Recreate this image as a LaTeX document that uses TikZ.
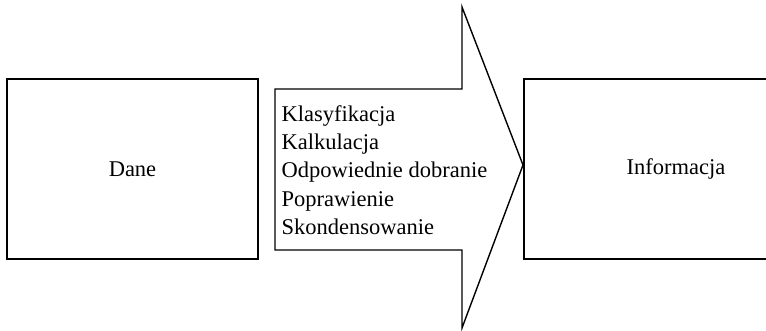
\documentclass[tikz,border=0pt]{standalone}
\usepackage{fontspec}
\setmainfont{Liberation Serif}
\usepackage{tikz}
\usetikzlibrary{positioning}

\begin{document}
\begin{tikzpicture}[x=1pt, y=-1pt, line width=1.4pt,
  %%Estilos
  every node/.style = {font=\fontsize{22.5}{28.3}\selectfont},
  blok/.style  = {draw, rectangle, inner sep=0pt, minimum height=180pt},
  kroki/.style = {align=left, anchor=west, inner sep=0pt},
  strzalka/.style = {draw, line join=miter}
  ]
  \useasboundingbox (0,0) rectangle (766,330);
  %%Nodos
  \node [blok, minimum width=251pt] (dane) at (132.5,169) {Dane};
  \node [blok, minimum width=304pt] (info) at (676,169) {Informacja};
  %%Flecha
  \coordinate (g1) at (275,89);
  \coordinate (g2) at (462,89);
  \coordinate (g3) at (462,7);
  \coordinate (czubek) at (523,165);
  \coordinate (d3) at (462,328);
  \coordinate (d2) at (462,250);
  \coordinate (d1) at (275,250);
  \draw [strzalka] (g1) -- (g2) -- (g3) -- (czubek) -- (d3) -- (d2) -- (d1) -- cycle;
  \node [kroki] (opis) at (281,170)
    {Klasyfikacja\\Kalkulacja\\Odpowiednie dobranie\\Poprawienie\\Skondensowanie};
\end{tikzpicture}
\end{document}
